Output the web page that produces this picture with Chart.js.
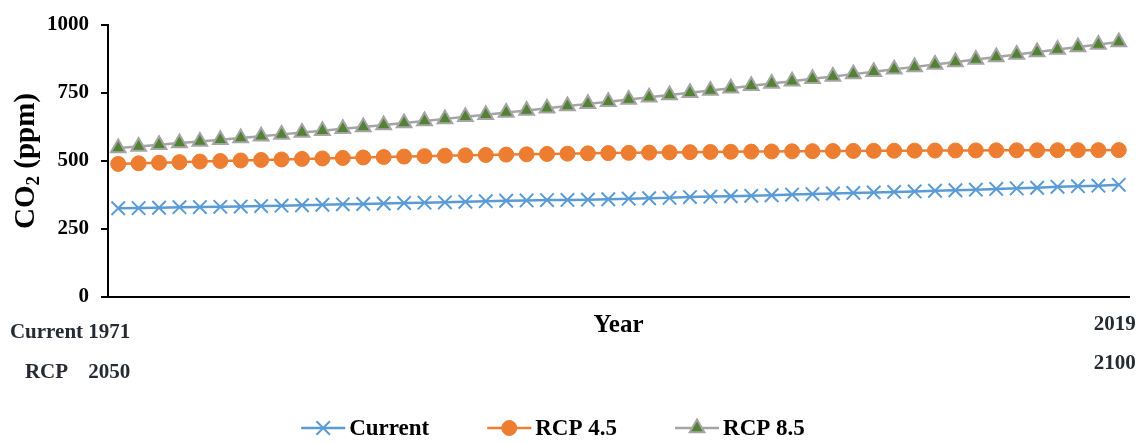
<!DOCTYPE html>
<html><head><meta charset="utf-8">
<style>html,body{margin:0;padding:0;background:#fff}#wrap{width:1142px;height:443px}</style>
<script src="https://cdn.jsdelivr.net/npm/chart.js@4.4.1/dist/chart.umd.min.js"></script>
</head><body><div id="wrap"><canvas id="c" width="1142" height="443"></canvas></div>
<script>
// ---- data ----
const categories = Array.from({length: 50}, (_, i) => String(i + 1));
const currentValues = [325.7, 326.3, 327.5, 329.7, 330.2, 331.1, 332.0, 333.8, 335.4, 336.8,
  338.8, 340.1, 341.5, 343.2, 344.9, 346.4, 347.6, 349.3, 351.7, 353.2,
  354.5, 355.7, 356.5, 357.2, 359.0, 361.0, 362.7, 363.9, 366.8, 368.5,
  369.7, 371.3, 373.5, 376.0, 377.7, 380.0, 382.1, 384.0, 385.8, 387.6,
  390.1, 391.9, 394.1, 396.7, 398.8, 401.0, 404.4, 406.8, 408.7, 411.7];
const rcp45Values = [488.6, 490.8, 493.0, 495.1, 497.2, 499.2, 501.2, 503.1, 505.0, 506.9,
  508.7, 510.5, 512.2, 513.9, 515.5, 517.1, 518.6, 520.0, 521.4, 522.7,
  523.9, 525.1, 526.2, 527.3, 528.3, 529.2, 530.1, 530.9, 531.7, 532.4,
  533.1, 533.7, 534.3, 534.8, 535.3, 535.8, 536.2, 536.6, 537.0, 537.3,
  537.6, 537.9, 538.1, 538.3, 538.5, 538.7, 538.9, 539.0, 539.1, 539.2];
const rcp85Values = [547.0, 552.9, 558.9, 565.0, 571.2, 577.5, 583.9, 590.4, 597.0, 603.7,
  610.4, 617.4, 624.5, 631.7, 639.0, 646.4, 653.9, 661.5, 669.2, 677.0,
  684.9, 692.9, 700.9, 709.0, 717.1, 725.2, 733.4, 741.6, 749.9, 758.2,
  766.6, 775.1, 783.6, 792.2, 800.8, 809.5, 818.2, 827.0, 835.8, 844.8,
  853.8, 862.8, 871.8, 880.9, 890.0, 899.1, 908.3, 917.5, 926.7, 935.9];
const seriesNames = ['Current', 'RCP 4.5', 'RCP 8.5'];
const yTicks = [0, 250, 500, 750, 1000];
const xRowNames = ['Current', 'RCP'];
const xStartLabels = ['1971', '2050'];
const xEndLabels = ['2019', '2100'];
const xTitle = 'Year';
const yTitleParts = ['CO', '2', ' (ppm)'];

const SERIF = '"Liberation Serif", "Times New Roman", serif';

function drawMarker(ctx, style, x, y, r, fill, stroke, bw) {
  ctx.save();
  ctx.fillStyle = fill; ctx.strokeStyle = stroke; ctx.lineWidth = bw;
  ctx.beginPath();
  if (style === 'circle') {
    ctx.arc(x, y, r, 0, Math.PI * 2);
    ctx.fill(); ctx.stroke();
  } else if (style === 'triangle') {
    ctx.moveTo(x, y - r);
    ctx.lineTo(x + r * Math.sin(Math.PI * 2 / 3), y - r * Math.cos(Math.PI * 2 / 3));
    ctx.lineTo(x - r * Math.sin(Math.PI * 2 / 3), y - r * Math.cos(Math.PI * 2 / 3));
    ctx.closePath(); ctx.fill(); ctx.stroke();
  } else if (style === 'crossRot') {
    const d = r * Math.SQRT1_2;
    ctx.moveTo(x - d, y - d); ctx.lineTo(x + d, y + d);
    ctx.moveTo(x - d, y + d); ctx.lineTo(x + d, y - d);
    ctx.stroke();
  }
  ctx.restore();
}

const textPlugin = {
  id: 'texts',
  afterDraw(chart) {
    const ctx = chart.ctx;
    const xs = chart.scales.x;
    ctx.save();
    // x-axis row labels
    ctx.font = 'bold 21px ' + SERIF;
    ctx.fillStyle = '#262a33';
    ctx.textAlign = 'center';
    ctx.textBaseline = 'middle';
    const x0 = xs.getPixelForValue(0) - 9;
    const x1 = xs.getPixelForValue(categories.length - 1) - 4;
    const leftRows = [333, 373], rightRows = [325, 364];
    xRowNames.forEach((t, i) => ctx.fillText(t, 46.5, leftRows[i]));
    xStartLabels.forEach((t, i) => ctx.fillText(t, x0, leftRows[i]));
    xEndLabels.forEach((t, i) => ctx.fillText(t, x1, rightRows[i]));
    // x title
    ctx.font = 'bold 25px ' + SERIF;
    ctx.fillStyle = '#000';
    ctx.fillText(xTitle, (chart.chartArea.left + chart.chartArea.right) / 2, 326);
    // y title
    ctx.save();
    ctx.translate(27, 161);
    ctx.rotate(-Math.PI / 2);
    const big = 'bold 29px ' + SERIF, small = 'bold 19px ' + SERIF;
    ctx.font = big; const w0 = ctx.measureText(yTitleParts[0]).width;
    const w2 = ctx.measureText(yTitleParts[2]).width;
    ctx.font = small; const w1 = ctx.measureText(yTitleParts[1]).width;
    let px = -(w0 + w1 + w2) / 2;
    ctx.textAlign = 'left';
    ctx.font = big; ctx.fillText(yTitleParts[0], px, 0); px += w0;
    ctx.font = small; ctx.fillText(yTitleParts[1], px, 7); px += w1;
    ctx.font = big; ctx.fillText(yTitleParts[2], px, 0);
    ctx.restore();
    // legend
    ctx.font = 'bold 23px ' + SERIF;
    ctx.textAlign = 'left';
    ctx.fillStyle = '#000';
    const lineLen = 44, gapText = 4, gapItem = 58;
    const ds = chart.data.datasets;
    const widths = ds.map(d => lineLen + gapText + ctx.measureText(d.label).width);
    const total = widths.reduce((a, b) => a + b, 0) + gapItem * (ds.length - 1);
    let lx = 553 - total / 2;
    const ly = 428;
    ds.forEach((d, i) => {
      ctx.save();
      ctx.strokeStyle = d.borderColor; ctx.lineWidth = 2.5;
      ctx.beginPath(); ctx.moveTo(lx, ly); ctx.lineTo(lx + lineLen, ly); ctx.stroke();
      ctx.restore();
      drawMarker(ctx, d.pointStyle, lx + lineLen / 2, ly, d.pointRadius, d.pointBackgroundColor, d.pointBorderColor, d.pointBorderWidth);
      ctx.fillStyle = '#000';
      ctx.fillText(d.label, lx + lineLen + gapText, ly + 1);
      lx += widths[i] + gapItem;
    });
    ctx.restore();
  }
};

new Chart(document.getElementById('c'), {
  type: 'line',
  data: {
    labels: categories,
    datasets: [
      { label: seriesNames[0], data: currentValues, borderColor: '#5B9BD5', borderWidth: 2.5,
        pointStyle: 'crossRot', pointRadius: 9.5, pointBorderColor: '#5B9BD5', pointBackgroundColor: '#5B9BD5', pointBorderWidth: 2, tension: 0 },
      { label: seriesNames[1], data: rcp45Values, borderColor: '#ED7D31', borderWidth: 2.5,
        pointStyle: 'circle', pointRadius: 7.5, pointBorderColor: '#ED7D31', pointBackgroundColor: '#ED7D31', pointBorderWidth: 1, tension: 0 },
      { label: seriesNames[2], data: rcp85Values, borderColor: '#A5A5A5', borderWidth: 2.5,
        pointStyle: 'triangle', pointRadius: 8.5, pointBorderColor: '#A5A5A5', pointBackgroundColor: '#548235', pointBorderWidth: 2, tension: 0 }
    ]
  },
  options: {
    responsive: false, animation: false, devicePixelRatio: 1,
    layout: { padding: { top: 20, right: 13, left: 0, bottom: 0 } },
    plugins: { legend: { display: false }, tooltip: { enabled: false } },
    scales: {
      x: {
        offset: true,
        grid: { display: false, drawTicks: false },
        border: { display: true, color: '#000', width: 2 },
        ticks: { display: false },
        afterFit(s) { s.height = 146; }
      },
      y: {
        min: 0, max: 1000,
        afterBuildTicks(s) { s.ticks = yTicks.map(v => ({ value: v })); },
        ticks: { font: { family: SERIF, weight: 'bold', size: 21 }, color: '#000', padding: 12,
          callback: v => String(v) },
        grid: { display: true, drawOnChartArea: false, drawTicks: true, tickLength: 7, color: '#000', lineWidth: 2 },
        border: { color: '#000', width: 2 },
        afterFit(s) { s.width = 108; }
      }
    }
  },
  plugins: [textPlugin]
});
</script></body></html>
